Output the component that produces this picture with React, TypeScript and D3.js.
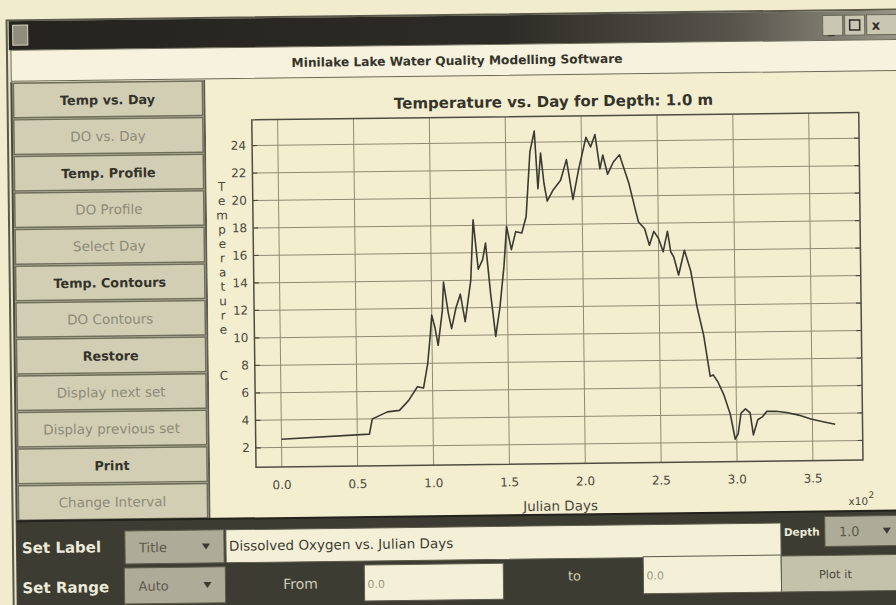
import * as d3 from "d3";

// Temperature at 1.0 m depth (day number, deg C)
const DAYS = [
  0, 58, 60, 64, 70, 78, 84, 90, 94, 97, 99, 100, 102, 104, 107, 108, 111, 113, 116, 119,
  122, 126, 128, 131, 134, 136, 139, 142, 145, 148, 150, 153, 156, 160, 163, 166, 169, 171,
  173, 175, 177, 181, 186, 190, 194, 198, 203, 206, 209, 212, 214, 217, 221, 225, 227, 231,
  235, 237, 241, 244, 247, 250, 253, 256, 258, 260, 263, 267, 271, 275, 279, 283, 285, 288,
  292, 296, 299, 301, 303, 306, 309, 311, 314, 317, 320, 326, 333, 341, 349, 357, 365,
];
const TEMPS = [
  2.6, 2.9, 4.0, 4.2, 4.5, 4.6, 5.3, 6.3, 6.2, 8.0, 10.2, 11.5, 10.6, 9.3, 11.8, 13.9, 11.6,
  10.5, 12.0, 13.0, 11.0, 14.0, 18.4, 14.8, 15.5, 16.7, 13.0, 9.9, 12.0, 15.0, 17.9, 16.2,
  17.5, 17.4, 18.6, 23.3, 24.8, 20.6, 23.2, 21.0, 19.7, 20.5, 21.2, 22.7, 19.8, 22.0, 24.3,
  23.6, 24.5, 22.0, 23.0, 21.6, 22.5, 23.0, 22.3, 20.9, 19.0, 18.1, 17.6, 16.4, 17.4, 16.9,
  15.9, 17.4, 15.9, 15.5, 14.2, 16.0, 14.5, 11.8, 9.8, 6.8, 6.9, 6.4, 5.4, 4.0, 2.2, 2.6, 4.1,
  4.4, 4.1, 2.5, 3.6, 3.8, 4.2, 4.2, 4.1, 3.9, 3.6, 3.4, 3.2,
];
const X_TICKS = [0, 50, 100, 150, 200, 250, 300, 350];
const Y_TICKS = [2, 4, 6, 8, 10, 12, 14, 16, 18, 20, 22, 24];
const X_DOMAIN = [-17, 383];
const Y_DOMAIN = [0.58, 25.87];

const NAV_LABELS = [
  "Temp vs. Day", "DO vs. Day", "Temp. Profile", "DO Profile", "Select Day",
  "Temp. Contours", "DO Contours", "Restore", "Display next set",
  "Display previous set", "Print", "Change Interval",
];
const NAV_ACTIVE = [true, false, true, false, false, true, false, true, false, false, true, false];

const APP_TITLE = "Minilake Lake Water Quality Modelling Software";
const CHART_TITLE = "Temperature vs. Day for Depth: 1.0 m";
const Y_LABEL = "Temperature";
const X_LABEL = "Julian Days";

const FONT = "'DejaVu Sans', sans-serif";
const PAGE = "#f1ecce";
const GRID = "#8f8b73";
const INK = "#35342b";

function Combo({ x, y, w, h, label }: { x: number; y: number; w: number; h: number; label: string }) {
  return (
    <g>
      <rect x={x} y={y} width={w} height={h} fill="#aeab98" stroke="#5d5b4c" />
      <text x={x + 14} y={y + h / 2 + 5} fontSize={13} fill="#5c5a4a" fontFamily={FONT}>
        {label}
      </text>
      <path d={`M${x + w - 22},${y + h / 2 - 3} l8,0 l-4,6 z`} fill="#3a392f" />
    </g>
  );
}

export default function App() {
  const x = d3.scaleLinear().domain(X_DOMAIN).range([254, 861]);
  const y = d3.scaleLinear().domain(Y_DOMAIN).range([465, 117.5]);
  const line = d3
    .line<number>()
    .x((_, i) => x(DAYS[i]))
    .y((d) => y(d));

  const [x0, x1] = x.range();
  const [y0, y1] = y.range();
  const navTop = 77;
  const navH = (516 - navTop) / NAV_LABELS.length;

  return (
    <div style={{ position: "fixed", left: 0, top: 0, width: 896, height: 605, background: PAGE }}>
      <svg width={896} height={605} style={{ display: "block" }}>
        <defs>
          <linearGradient id="titleGrad" x1="0" x2="1">
            <stop offset="0%" stopColor="#24231e" />
            <stop offset="55%" stopColor="#2c2b25" />
            <stop offset="80%" stopColor="#55534a" />
            <stop offset="100%" stopColor="#9d9b8c" />
          </linearGradient>
        </defs>
        <rect width={896} height={605} fill={PAGE} />
        <g transform="rotate(-0.7 448 300)">
          {/* window frame */}
          <rect x={10} y={15} width={900} height={600} fill="#e9e4c6" stroke="#5a594c" strokeWidth={2} />
          <rect x={12} y={16} width={900} height={29} fill="url(#titleGrad)" />
          <rect x={16} y={20} width={15} height={20} fill="#8f8d7e" stroke="#d6d3c0" />
          <g fontFamily={FONT} fontSize={13} fill="#2b2a24">
            <rect x={826} y={20} width={20} height={20} fill="#c9c6b3" stroke="#6a6858" />
            <text x={831} y={38}>_</text>
            <rect x={848} y={20} width={20} height={20} fill="#c9c6b3" stroke="#6a6858" />
            <rect x={853} y={25} width={10} height={10} fill="none" stroke="#2b2a24" strokeWidth={1.5} />
            <rect x={870} y={20} width={30} height={20} fill="#c9c6b3" stroke="#6a6858" />
            <text x={875} y={35} fontWeight="bold">x</text>
          </g>

          {/* application header */}
          <rect x={14} y={45} width={890} height={31} fill="#f6f2dd" stroke="#6d6b5b" />
          <text x={460} y={65} textAnchor="middle" fontFamily={FONT} fontWeight="bold" fontSize={12.2} fill={INK}>
            {APP_TITLE}
          </text>

          {/* navigation buttons */}
          <rect x={14} y={navTop} width={193} height={516 - navTop} fill="#cdc9ae" />
          {NAV_LABELS.map((label, i) => (
            <g key={label}>
              <rect
                x={16}
                y={navTop + i * navH + 1}
                width={189}
                height={navH - 2}
                fill="#d2ceb4"
                stroke="#6f6d5b"
                strokeWidth={1.5}
              />
              <text
                x={110}
                y={navTop + i * navH + navH / 2 + 5}
                textAnchor="middle"
                fontFamily={FONT}
                fontSize={NAV_ACTIVE[i] ? 12.8 : 13.5}
                fontWeight={NAV_ACTIVE[i] ? "bold" : "normal"}
                fill={NAV_ACTIVE[i] ? "#34332b" : "#8d8a76"}
              >
                {label}
              </text>
            </g>
          ))}
          <line x1={14} x2={14} y1={navTop} y2={605} stroke="#4a493e" strokeWidth={2} />
          <line x1={207} x2={207} y1={navTop} y2={516} stroke="#5e5c4d" strokeWidth={2} />

          {/* chart panel */}
          <rect x={208} y={navTop} width={700} height={516 - navTop} fill="#f3eed0" />
          <text x={556} y={108} textAnchor="middle" fontFamily={FONT} fontWeight="bold" fontSize={15} fill={INK}>
            {CHART_TITLE}
          </text>

          {/* grid */}
          {X_TICKS.map((t) => (
            <line key={`gx${t}`} x1={x(t)} x2={x(t)} y1={y1} y2={y0} stroke={GRID} strokeWidth={1} />
          ))}
          {Y_TICKS.map((t) => (
            <line key={`gy${t}`} x1={x0} x2={x1} y1={y(t)} y2={y(t)} stroke={GRID} strokeWidth={1} />
          ))}
          {Y_TICKS.map((t) => (
            <line key={`ty${t}`} x1={x0} x2={x0 + 5} y1={y(t)} y2={y(t)} stroke="#4d4b3e" strokeWidth={1.2} />
          ))}
          {Y_TICKS.map((t) => (
            <line key={`tr${t}`} x1={x1 - 5} x2={x1} y1={y(t)} y2={y(t)} stroke="#4d4b3e" strokeWidth={1.2} />
          ))}
          <rect x={x0} y={y1} width={x1 - x0} height={y0 - y1} fill="none" stroke="#4f4d40" strokeWidth={1.5} />

          {/* data */}
          <path d={line(TEMPS) ?? ""} fill="none" stroke="#3b3a30" strokeWidth={1.6} strokeLinejoin="round" />

          {/* tick labels */}
          <g fontFamily={FONT} fontSize={12} fill="#4a4839">
            {Y_TICKS.map((t) => (
              <text key={`ly${t}`} x={x0 - 6} y={y(t) + 4} textAnchor="end">
                {t}
              </text>
            ))}
            {X_TICKS.map((t) => (
              <text key={`lx${t}`} x={x(t)} y={487} textAnchor="middle">
                {(t / 100).toFixed(1)}
              </text>
            ))}
            <text x={558} y={512} textAnchor="middle" fontSize={13.5}>{X_LABEL}</text>
            <text x={846} y={510} fontSize={10.5}>x10</text>
            <text x={866} y={503} fontSize={9}>2</text>
          </g>
          <g fontFamily={FONT} fontSize={12} fill="#4a4839">
            {Y_LABEL.split("").map((ch, i) => (
              <text key={`yl${i}`} x={223} y={188 + i * 14.3} textAnchor="middle">
                {ch}
              </text>
            ))}
            <text x={223} y={377} textAnchor="middle">C</text>
          </g>

          {/* bottom controls */}
          <rect x={14} y={516} width={900} height={95} fill="#3d3c32" />
          <line x1={14} x2={910} y1={516} y2={516} stroke="#23221c" strokeWidth={2} />
          <g fontFamily={FONT} fontWeight="bold" fontSize={15} fill="#ecead9">
            <text x={19} y={548}>Set Label</text>
            <text x={19} y={588}>Set Range</text>
          </g>
          <Combo x={122} y={527} w={99} h={33} label="Title" />
          <Combo x={121} y={564} w={101} h={36} label="Auto" />
          <rect x={223} y={527} width={555} height={33} fill="#f4f0d8" stroke="#5d5b4c" />
          <text x={226} y={548} fontFamily={FONT} fontSize={13.5} fill="#3d3c32">
            Dissolved Oxygen vs. Julian Days
          </text>
          <text x={781} y={540} fontFamily={FONT} fontSize={10.5} fontWeight="bold" fill="#ecead9">
            Depth
          </text>
          <Combo x={822} y={521} w={80} h={30} label="1.0" />

          <text x={297} y={587} textAnchor="middle" fontFamily={FONT} fontSize={14} fill="#cfccb7">
            From
          </text>
          <rect x={361} y={564} width={139} height={36} fill="#f4f0d8" stroke="#5d5b4c" />
          <text x={364} y={587} fontFamily={FONT} fontSize={11} fill="#9b9884">0.0</text>
          <text x={571} y={582} textAnchor="middle" fontFamily={FONT} fontSize={13} fill="#cfccb7">
            to
          </text>
          <rect x={640} y={559} width={138} height={37} fill="#f4f0d8" stroke="#5d5b4c" />
          <text x={643} y={582} fontFamily={FONT} fontSize={11} fill="#9b9884">0.0</text>
          <rect x={778} y={560} width={130} height={36} fill="#c5c2ac" stroke="#5d5b4c" />
          <text x={832} y={583} textAnchor="middle" fontFamily={FONT} fontSize={11.5} fill="#4a4839">
            Plot it
          </text>
        </g>
      </svg>
    </div>
  );
}
